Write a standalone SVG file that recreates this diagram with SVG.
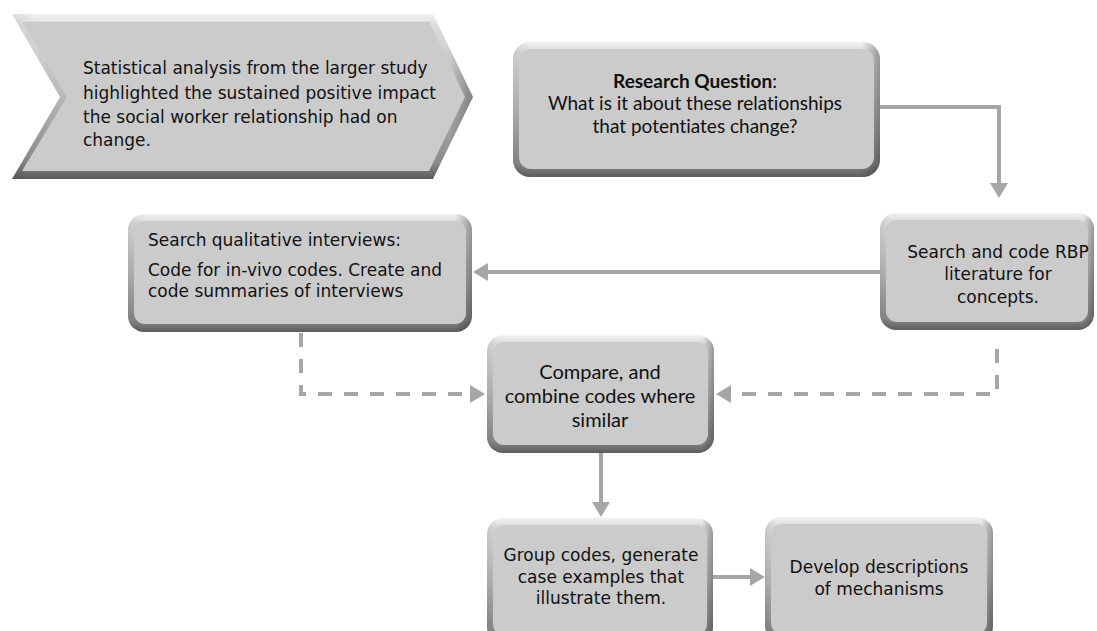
<svg xmlns="http://www.w3.org/2000/svg" width="1097" height="631" viewBox="0 0 1097 631">
<defs>
<linearGradient id="gV" x1="0" y1="0" x2="0" y2="1">
<stop offset="0" stop-color="#f2f2f2"/>
<stop offset="0.07" stop-color="#dcdcdc"/>
<stop offset="0.5" stop-color="#b8b8b8"/>
<stop offset="0.9" stop-color="#8a8a8a"/>
<stop offset="1" stop-color="#5c5c5c"/>
</linearGradient>
<linearGradient id="gH" x1="0" y1="0" x2="1" y2="0">
<stop offset="0" stop-color="#000" stop-opacity="0.08"/>
<stop offset="0.05" stop-color="#000" stop-opacity="0"/>
<stop offset="0.95" stop-color="#000" stop-opacity="0"/>
<stop offset="1" stop-color="#000" stop-opacity="0.3"/>
</linearGradient>
<marker id="ah" markerUnits="userSpaceOnUse" markerWidth="16" markerHeight="18" viewBox="0 0 16 18" refX="11" refY="9" orient="auto">
<path d="M0,0 L15,9 L0,18 z" fill="#a6a6a6"/>
</marker>
</defs>
<style>
.o{fill:url(#gV)}
.s{fill:url(#gH)}
.i{fill:#cbcbcb}
.hl{fill:none;stroke:#ffffff;stroke-opacity:0.55;stroke-width:1.2}
.t{font-family:"DejaVu Sans",sans-serif;font-size:17px;fill:#111111}
.c{font-family:Lato,"Liberation Sans",sans-serif;font-size:20px;fill:#111111;font-variant-ligatures:none}
.q{font-size:19px}
.m{text-anchor:middle}
.b{font-weight:bold}
.ln{fill:none;stroke:#a6a6a6;stroke-width:4}
.d{stroke-dasharray:14 12}
</style>

<g id="connectors">
<path class="ln" d="M880,107 H999 V194" marker-end="url(#ah)"/>
<path class="ln" d="M880,272 H477" marker-end="url(#ah)"/>
<path class="ln d" d="M301,333 V394 H481" marker-end="url(#ah)"/>
<path class="ln d" d="M997,349 V394 H720" marker-end="url(#ah)"/>
<path class="ln" d="M601,453 V513" marker-end="url(#ah)"/>
<path class="ln" d="M713,577 H761" marker-end="url(#ah)"/>
</g>

<g id="chevron">
<polygon class="o" points="12,14 433,14 473,97 433,179 12,179 60,97"/>
<polygon class="s" points="12,14 433,14 473,97 433,179 12,179 60,97"/>
<polygon class="i" points="22,21 429,21 465,97 429,171 22,171 67,97"/>
<polyline class="hl" points="22,21 429,21"/>
<text class="t" x="83" y="74">Statistical analysis from the larger study</text>
<text class="t" x="83" y="99">highlighted the sustained positive impact</text>
<text class="t" x="83" y="123">the social worker relationship had on</text>
<text class="t" x="83" y="146">change.</text>
</g>

<g id="research">
<rect class="o" x="513" y="42" width="367" height="135" rx="17"/>
<rect class="s" x="513" y="42" width="367" height="135" rx="17"/>
<rect class="i" x="519" y="49" width="355" height="120" rx="12"/>
<text class="c q m" x="695" y="88"><tspan class="b">Research Question</tspan>:</text>
<text class="c q m" x="695" y="110">What is it about these relationships</text>
<text class="c q m" x="695" y="133">that potentiates change?</text>
</g>

<g id="rbp">
<rect class="o" x="880" y="213" width="214" height="117" rx="16"/>
<rect class="s" x="880" y="213" width="214" height="117" rx="16"/>
<rect class="i" x="886" y="220" width="202" height="102" rx="11"/>
<text class="t m" x="998" y="258">Search and code RBP</text>
<text class="t m" x="998" y="280">literature for</text>
<text class="t m" x="998" y="303">concepts.</text>
</g>

<g id="interviews">
<rect class="o" x="128" y="214" width="344" height="118" rx="16"/>
<rect class="s" x="128" y="214" width="344" height="118" rx="16"/>
<rect class="i" x="134" y="221" width="332" height="103" rx="11"/>
<text class="t" x="148" y="246">Search qualitative interviews:</text>
<text class="t" x="148" y="276">Code for in-vivo codes. Create and</text>
<text class="t" x="148" y="297">code summaries of interviews</text>
</g>

<g id="compare">
<rect class="o" x="487" y="335" width="227" height="118" rx="16"/>
<rect class="s" x="487" y="335" width="227" height="118" rx="16"/>
<rect class="i" x="493" y="342" width="215" height="103" rx="11"/>
<text class="c m" x="600" y="379">Compare, and</text>
<text class="c m" x="600" y="403">combine codes where</text>
<text class="c m" x="600" y="427">similar</text>
</g>

<g id="group">
<rect class="o" x="487" y="518" width="226" height="125" rx="16"/>
<rect class="s" x="487" y="518" width="226" height="125" rx="16"/>
<rect class="i" x="493" y="525" width="214" height="110" rx="11"/>
<text class="t m" x="601" y="561">Group codes, generate</text>
<text class="t m" x="601" y="583">case examples that</text>
<text class="t m" x="601" y="604">illustrate them.</text>
</g>

<g id="develop">
<rect class="o" x="765" y="517" width="228" height="125" rx="16"/>
<rect class="s" x="765" y="517" width="228" height="125" rx="16"/>
<rect class="i" x="771" y="524" width="216" height="110" rx="11"/>
<text class="t m" x="879" y="573">Develop descriptions</text>
<text class="t m" x="879" y="595">of mechanisms</text>
</g>
</svg>
